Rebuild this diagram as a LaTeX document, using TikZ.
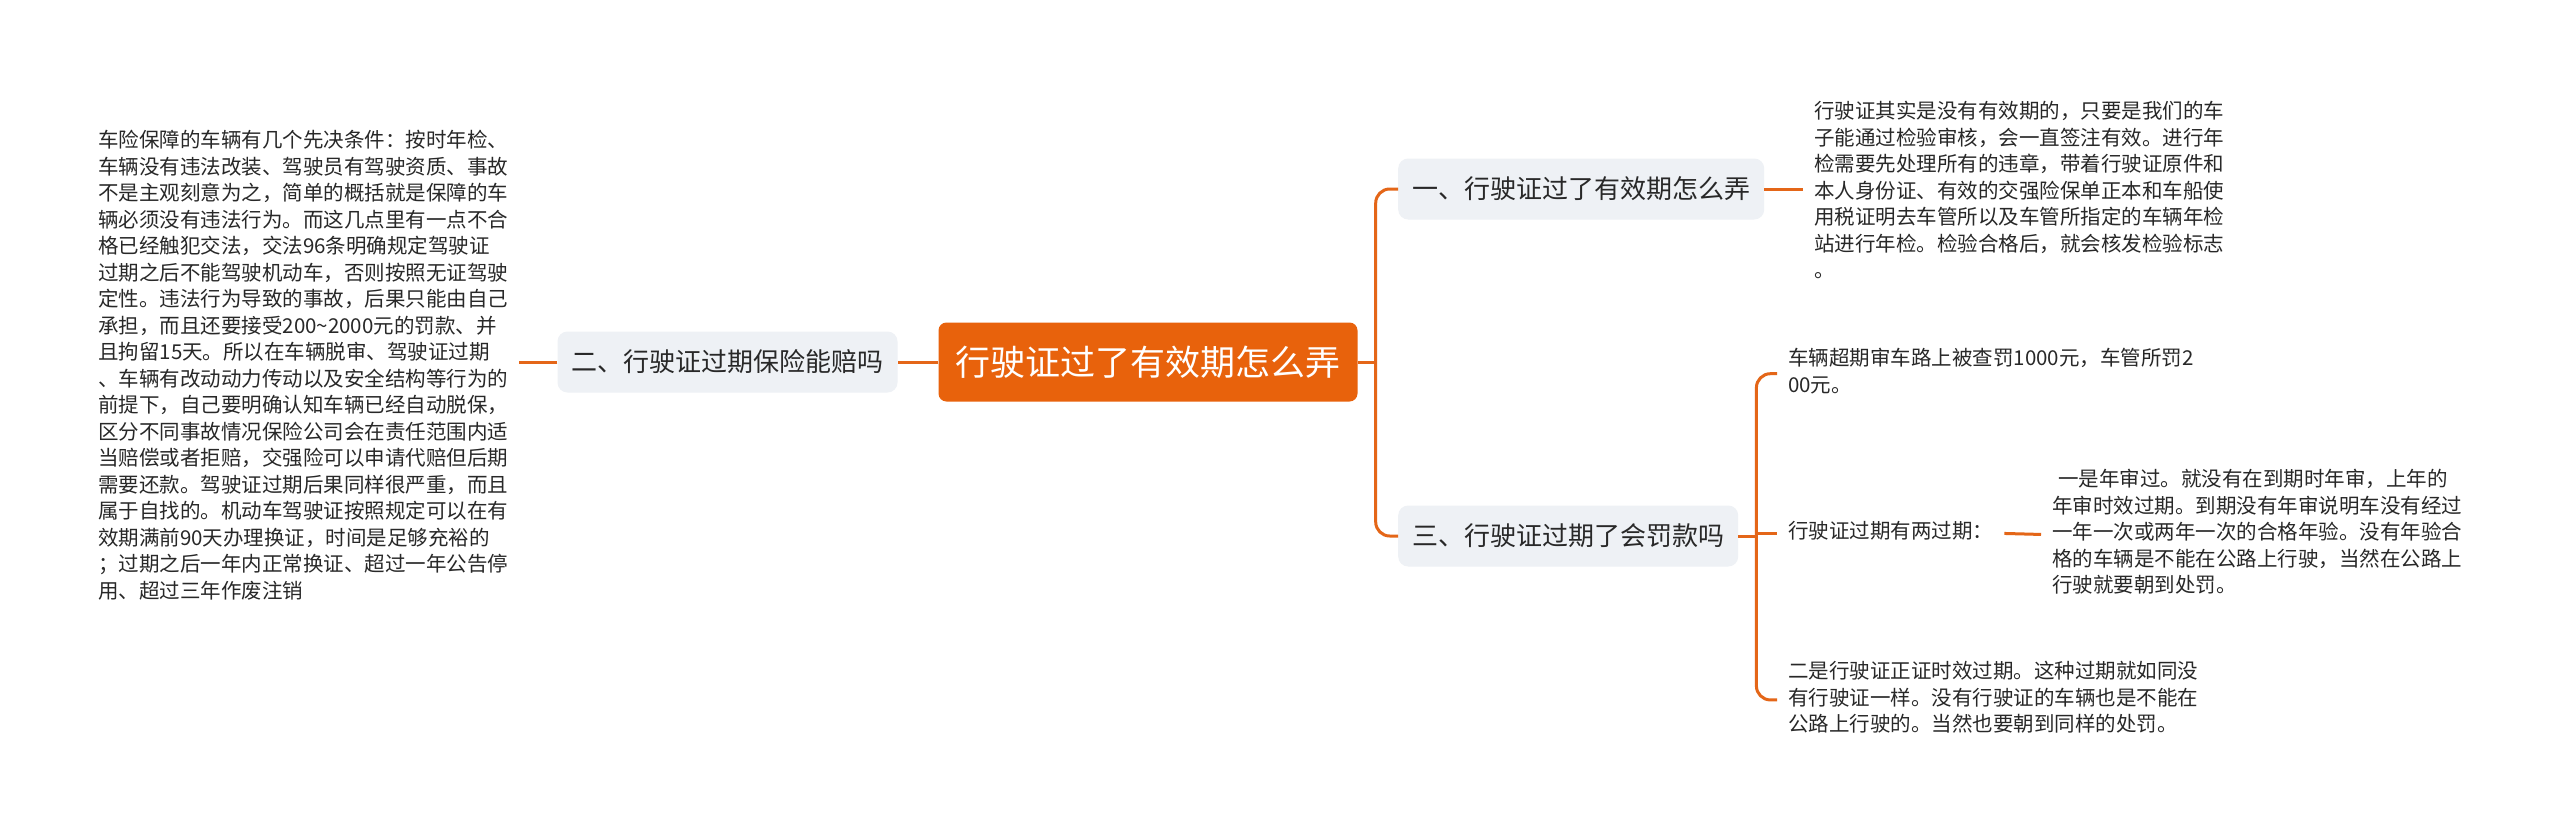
\documentclass[tikz,border=0pt]{standalone}
\usepackage{fontspec}
\newfontfamily\cjk{Noto Sans CJK SC}
\usetikzlibrary{calc}
\definecolor{org}{RGB}{232,98,12}
\definecolor{lnc}{RGB}{228,102,24}
\definecolor{gfill}{RGB}{238,241,245}
\definecolor{tc}{RGB}{40,40,40}
\begin{document}
\begin{tikzpicture}[x=1pt,y=-1pt,
  root/.style={fill=org, text=white, rounded corners=8pt, minimum height=79pt, inner xsep=17pt, inner ysep=0pt, font=\cjk\fontsize{35}{40}\selectfont},
  topic/.style={fill=gfill, text=tc, rounded corners=10pt, minimum height=61pt, inner xsep=14pt, inner ysep=0pt, font=\cjk\fontsize{26}{30}\selectfont},
  para/.style={anchor=north west, align=left, text=tc, inner xsep=11pt, inner ysep=0pt, font=\cjk\fontsize{20.5}{26.5}\selectfont},
  link/.style={draw=lnc, line width=3pt},
]
\useasboundingbox[fill=white] (0,0) rectangle (2560,838);

\node[root] (c) at (1148,362) {行驶证过了有效期怎么弄};
\node[topic] (n2) at (727.5,362) {二、行驶证过期保险能赔吗};
\node[topic, anchor=west] (n1) at (1398,189) {一、行驶证过了有效期怎么弄};
\node[topic, anchor=west] (n3) at (1398,536) {三、行驶证过期了会罚款吗};

\node[para] (lt) at (87,129) {\strut 车险保障的车辆有几个先决条件：按时年检、\\
车辆没有违法改装、驾驶员有驾驶资质、事故\\
不是主观刻意为之，简单的概括就是保障的车\\
辆必须没有违法行为。而这几点里有一点不合\\
格已经触犯交法，交法96条明确规定驾驶证\\
过期之后不能驾驶机动车，否则按照无证驾驶\\
定性。违法行为导致的事故，后果只能由自己\\
承担，而且还要接受200\textasciitilde 2000元的罚款、并\\
且拘留15天。所以在车辆脱审、驾驶证过期\\
、车辆有改动动力传动以及安全结构等行为的\\
前提下，自己要明确认知车辆已经自动脱保，\\
区分不同事故情况保险公司会在责任范围内适\\
当赔偿或者拒赔，交强险可以申请代赔但后期\\
需要还款。驾驶证过期后果同样很严重，而且\\
属于自找的。机动车驾驶证按照规定可以在有\\
效期满前90天办理换证，时间是足够充裕的\\
；过期之后一年内正常换证、超过一年公告停\\
用、超过三年作废注销\strut};

\node[para] (t1) at (1803,100) {\strut 行驶证其实是没有有效期的，只要是我们的车\\
子能通过检验审核，会一直签注有效。进行年\\
检需要先处理所有的违章，带着行驶证原件和\\
本人身份证、有效的交强险保单正本和车船使\\
用税证明去车管所以及车管所指定的车辆年检\\
站进行年检。检验合格后，就会核发检验标志\\
。\strut};

\node[para] (ca) at (1777,347) {\strut 车辆超期审车路上被查罚1000元，车管所罚2\\
00元。\strut};
\node[para] (cb) at (1777,520) {\strut 行驶证过期有两过期：\strut};
\node[para] (cc) at (2041,468) {\strut\hspace{6pt}一是年审过。就没有在到期时年审，上年的\\
年审时效过期。到期没有年审说明车没有经过\\
一年一次或两年一次的合格年验。没有年验合\\
格的车辆是不能在公路上行驶，当然在公路上\\
行驶就要朝到处罚。\strut};
\node[para] (cd) at (1777,660) {\strut 二是行驶证正证时效过期。这种过期就如同没\\
有行驶证一样。没有行驶证的车辆也是不能在\\
公路上行驶的。当然也要朝到同样的处罚。\strut};

\draw[link] (c.west) -- (n2.east);
\draw[link] (n2.west) -- (n2.west -| lt.east);
\coordinate (j1) at ($(c.east)+(18,0)$);
\draw[link] (c.east) -- (j1);
\draw[link, rounded corners=14pt] (n1.west) -| (j1) |- (n3.west);
\draw[link] (n1.east) -- (n1.east -| t1.west);
\coordinate (j3) at ($(n3.east)+(18,0)$);
\draw[link] (n3.east) -- (j3);
\draw[link, rounded corners=14pt] (ca.west) -| (j3) |- (cd.west);
\draw[link] (j3 |- cb.west) -- (cb.west);
\draw[link] (cb.east) -- (cc.west);
\end{tikzpicture}
\end{document}
